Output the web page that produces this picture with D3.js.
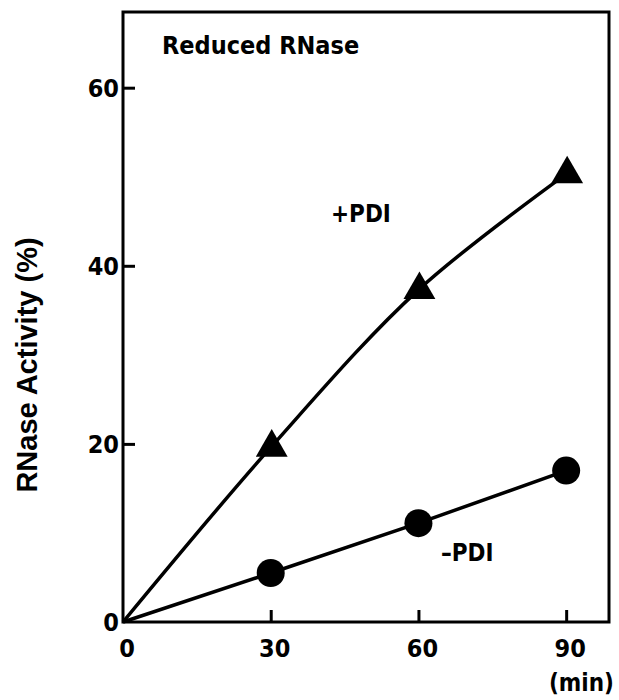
<!DOCTYPE html>
<html>
<head>
<meta charset="utf-8">
<script src="https://cdn.jsdelivr.net/npm/d3@7"></script>
<style>
  body { margin: 0; background: #fff; }
  text { font-family: "DejaVu Sans Condensed", "Liberation Sans Narrow", "Liberation Sans", sans-serif; font-weight: bold; fill: #000; }
</style>
</head>
<body>
<svg id="chart" width="619" height="700"></svg>
<script>
// time points (min)
const times = [0, 30, 60, 90];
// RNase activity (%)
const plusPDI = [0, 19.6, 37.3, 50.3];
const minusPDI = [0, 5.5, 11.1, 17.0];
const xTicks = [0, 30, 60, 90];
const yTicks = [0, 20, 40, 60];

const svg = d3.select("#chart");
const plotLeft = 123, plotRight = 609, plotTop = 12, plotBottom = 622;

const x = d3.scaleLinear().domain([0, 98.7]).range([plotLeft, plotRight]);
const y = d3.scaleLinear().domain([0, 68.5]).range([plotBottom, plotTop]);

// frame
svg.append("rect")
  .attr("x", plotLeft).attr("y", plotTop)
  .attr("width", plotRight - plotLeft).attr("height", plotBottom - plotTop)
  .style("fill", "none").style("stroke", "#000").style("stroke-width", 3);

// y axis, ticks inward
const yAxis = svg.append("g")
  .attr("transform", `translate(${plotLeft},0)`)
  .call(d3.axisRight(y).tickValues(yTicks).tickSize(12).tickFormat(""));
yAxis.select(".domain").remove();
yAxis.selectAll("line").style("stroke-width", 3);
yAxis.selectAll(".tick").filter(d => d === 0).remove();

svg.selectAll(".ylab").data(yTicks).enter().append("text")
  .attr("class", "ylab")
  .attr("x", plotLeft - 4)
  .attr("y", d => y(d) + 9)
  .attr("text-anchor", "end")
  .style("font-size", "25px")
  .text(d => d);

// x axis, ticks inward
const xAxis = svg.append("g")
  .attr("transform", `translate(0,${plotBottom})`)
  .call(d3.axisTop(x).tickValues(xTicks).tickSize(12).tickFormat(""));
xAxis.select(".domain").remove();
xAxis.selectAll("line").style("stroke-width", 3);
xAxis.selectAll(".tick").filter(d => d === 0).remove();

svg.selectAll(".xlab").data(xTicks).enter().append("text")
  .attr("class", "xlab")
  .attr("x", d => x(d) + 4)
  .attr("y", plotBottom + 35)
  .attr("text-anchor", "middle")
  .style("font-size", "25px")
  .text(d => d);

svg.append("text")
  .attr("x", 614).attr("y", 691)
  .attr("text-anchor", "end")
  .style("font-size", "24px")
  .text("(min)");

// y title
svg.append("text")
  .attr("transform", "translate(37,365) rotate(-90)")
  .attr("text-anchor", "middle")
  .style("font-family", "'Liberation Sans', Arial, sans-serif")
  .style("font-size", "29px")
  .text("RNase Activity (%)");

svg.append("text")
  .attr("x", 162).attr("y", 54)
  .style("font-size", "25px")
  .text("Reduced RNase");

// lines
const plusData = times.map((t, i) => ({ t, v: plusPDI[i] }));
const minusData = times.map((t, i) => ({ t, v: minusPDI[i] }));

svg.append("path")
  .datum(plusData)
  .attr("d", d3.line().x(d => x(d.t)).y(d => y(d.v)).curve(d3.curveCatmullRom.alpha(0.5)))
  .style("fill", "none").style("stroke", "#000").style("stroke-width", 3.5);

svg.append("path")
  .datum(minusData)
  .attr("d", d3.line().x(d => x(d.t)).y(d => y(d.v)))
  .style("fill", "none").style("stroke", "#000").style("stroke-width", 3.5);

// markers
svg.selectAll(".tri").data(plusData.slice(1)).enter().append("path")
  .attr("class", "tri")
  .attr("transform", d => `translate(${x(d.t) + 1},${y(d.v)})`)
  .attr("d", d3.symbol().type(d3.symbolTriangle).size(440))
  .style("fill", "#000");

svg.selectAll(".dot").data(minusData.slice(1)).enter().append("circle")
  .attr("class", "dot")
  .attr("cx", d => x(d.t))
  .attr("cy", d => y(d.v))
  .attr("r", 14)
  .style("fill", "#000");

// series labels
svg.append("text")
  .attr("x", 331).attr("y", 222)
  .style("font-size", "24px")
  .text("+PDI");

svg.append("text")
  .attr("x", 441).attr("y", 561)
  .style("font-size", "24px")
  .text("\u2013PDI");
</script>
</body>
</html>
